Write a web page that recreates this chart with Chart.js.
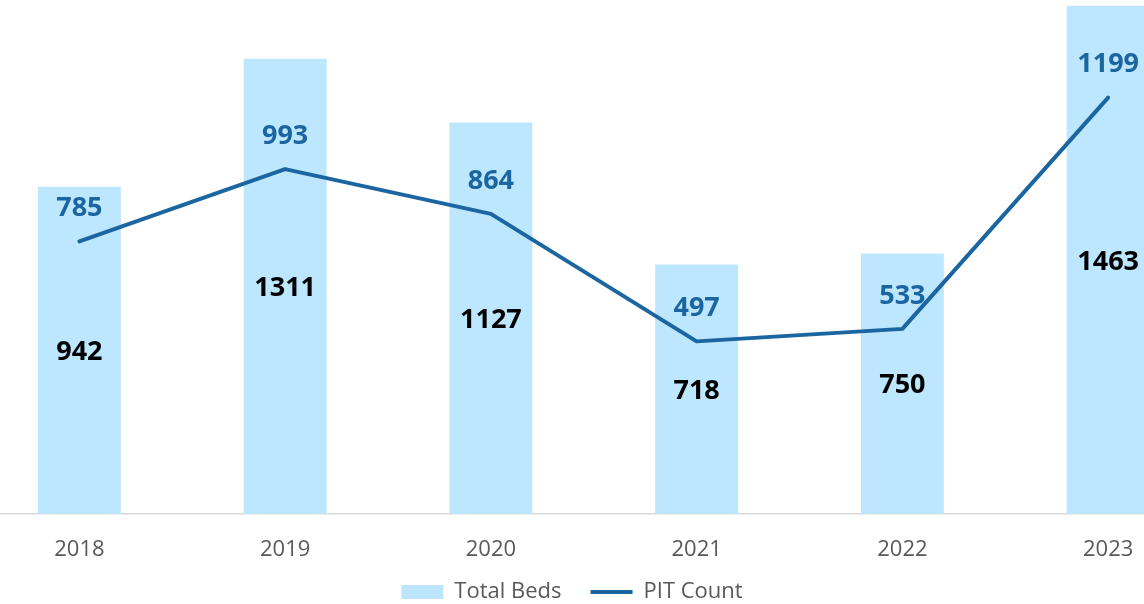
<!DOCTYPE html>
<html>
<head>
<meta charset="utf-8">
<script src="https://cdn.jsdelivr.net/npm/chart.js@4/dist/chart.umd.min.js"></script>
<style>
  html, body { margin: 0; padding: 0; background: #fff; overflow: hidden; width: 1144px; height: 604px; }
  #wrap { position: absolute; left: -67px; top: -7px; width: 1278px; height: 620px; }
</style>
</head>
<body>
<div id="wrap"><canvas id="c"></canvas></div>
<script>
const categories = ['2018', '2019', '2020', '2021', '2022', '2023'];
const totalBeds = [942, 1311, 1127, 718, 750, 1463];
const pitCount = [785, 993, 864, 497, 533, 1199];

const BAR_COLOR = '#BDE6FF';
const LINE_COLOR = '#1B66A1';
const FONT = '"Open Sans", "Noto Sans", sans-serif';

const valueLabels = {
  id: 'valueLabels',
  afterDatasetsDraw(chart) {
    const ctx = chart.ctx;
    ctx.save();
    ctx.textAlign = 'center';
    ctx.textBaseline = 'middle';
    ctx.font = 'bold 27px ' + FONT;
    chart.data.datasets.forEach((ds, di) => {
      const meta = chart.getDatasetMeta(di);
      meta.data.forEach((el, i) => {
        const v = ds.data[i];
        if (ds.type === 'bar') {
          const p = el.getProps(['x', 'y', 'base'], true);
          ctx.fillStyle = '#000000';
          ctx.fillText(String(v), p.x, (p.y + p.base) / 2 + 2);
        } else {
          const p = el.getProps(['x', 'y'], true);
          ctx.fillStyle = LINE_COLOR;
          ctx.fillText(String(v), p.x, p.y - 33);
        }
      });
    });
    ctx.restore();
  }
};

new Chart(document.getElementById('c'), {
  data: {
    labels: categories,
    datasets: [
      {
        type: 'bar',
        label: 'Total Beds',
        data: totalBeds,
        backgroundColor: BAR_COLOR,
        borderWidth: 0,
        barPercentage: 0.403,
        categoryPercentage: 1,
        pointStyle: 'rect',
        order: 1
      },
      {
        type: 'line',
        label: 'PIT Count',
        data: pitCount,
        borderColor: LINE_COLOR,
        backgroundColor: LINE_COLOR,
        borderWidth: 4,
        tension: 0,
        pointRadius: 0,
        pointHoverRadius: 0,
        borderCapStyle: 'round',
        borderJoinStyle: 'round',
        pointStyle: 'line',
        fill: false,
        order: 0
      }
    ]
  },
  options: {
    responsive: true,
    maintainAspectRatio: false,
    animation: false,
    layout: { padding: 0 },
    plugins: {
      tooltip: { enabled: false },
      legend: {
        position: 'bottom',
        labels: {
          usePointStyle: true,
          pointStyleWidth: 42,
          boxHeight: 14,
          padding: 29,
          color: '#595959',
          font: { family: FONT, size: 22 },
          sort: (a, b) => a.datasetIndex - b.datasetIndex
        }
      }
    },
    scales: {
      x: {
        grid: { display: false, drawTicks: false, tickLength: 0 },
        border: { display: true, color: '#D9D9D9', width: 1.5 },
        ticks: {
          color: '#595959',
          padding: 22.5,
          font: { family: FONT, size: 22 }
        },
        afterFit(scale) {
          scale.height = 38;
          scale._computeLabelArea = () => undefined;
        }
      },
      y: {
        min: 0,
        max: 1500,
        position: 'left',
        grid: { display: false, drawTicks: false },
        border: { display: false },
        ticks: { display: false },
        afterFit(scale) { scale.width = 43.5; }
      }
    }
  },
  plugins: [valueLabels]
});
</script>
</body>
</html>
